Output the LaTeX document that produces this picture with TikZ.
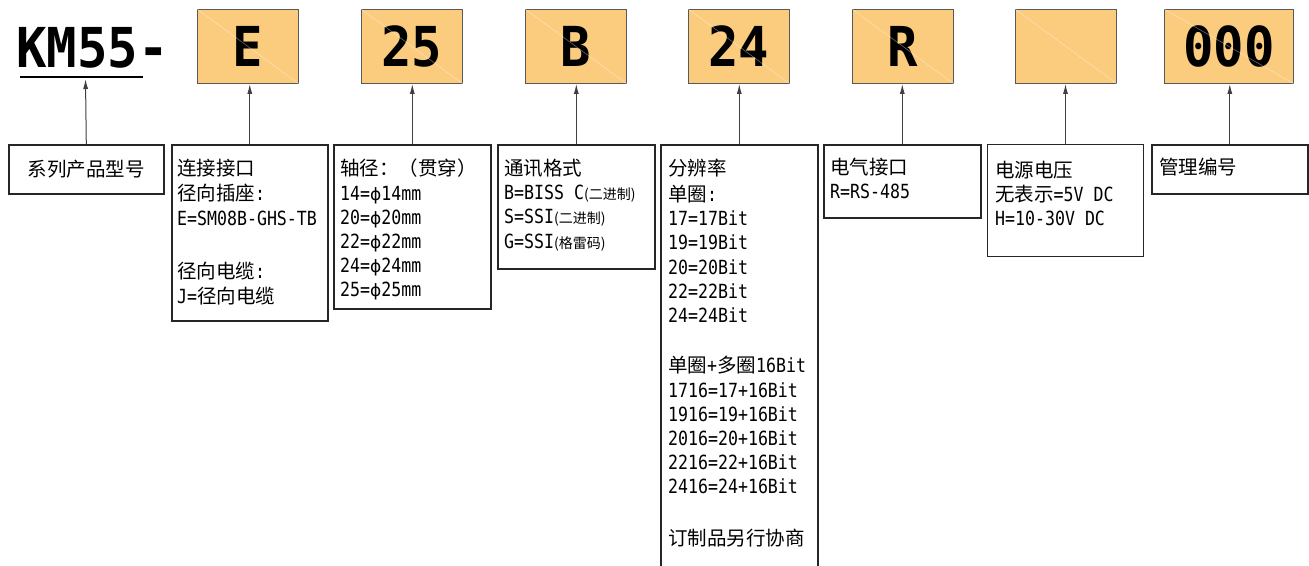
\documentclass[tikz,border=0pt]{standalone}
\usepackage{fontspec}
\setmainfont{Noto Sans CJK SC}
\newfontfamily\cjk{Noto Sans CJK SC}
\newfontfamily\latn[FakeStretch=0.85]{DejaVu Sans Mono}
\newfontfamily\ttl[FakeStretch=0.92]{DejaVu Sans Mono}
\newfontfamily\djv{DejaVu Sans}
\newcommand\smcjk{\cjk\fontsize{14}{16}\selectfont}
\usetikzlibrary{arrows.meta,calc}
\definecolor{orfill}{HTML}{FBCB7E}
\begin{document}
\begin{tikzpicture}[x=1pt,y=-1pt,
  obox/.style={draw=black!65, line width=0.9pt, fill=orfill, minimum height=74pt,
    anchor=north west, inner sep=0pt, font=\ttl\bfseries\fontsize{55}{60}\selectfont},
  lbox/.style={draw=black!85, line width=1.6pt, anchor=north west, inner sep=0pt},
  txt/.style={anchor=base west, inner sep=0pt, font=\cjk\fontsize{19.5}{24}\selectfont},
  conn/.style={draw=black!75, line width=1pt, -{Latex[length=10pt,width=5pt]}},
  diag/.style={draw=white, opacity=0.4, line width=0.6pt}]
\path[use as bounding box] (0,0) rectangle (1309,565);
\clip (0,0) rectangle (1309,565);
\fill[white] (0,0) rectangle (1309,565);

% title
\node[anchor=base west, inner sep=0pt, font=\ttl\bfseries\fontsize{55}{60}\selectfont] (title) at (16,67) {KM55-};
\draw[line width=2.2pt] (20,77) -- (143,77);
\coordinate (ul) at (85.5,79);

% orange code boxes
\node[obox, minimum width=101pt] (o1) at (197,9) {E};
\node[obox, minimum width=101pt] (o2) at (361,9) {25};
\node[obox, minimum width=101pt] (o3) at (525,9) {B};
\node[obox, minimum width=101pt] (o4) at (688,9) {24};
\node[obox, minimum width=101pt] (o5) at (852,9) {R};
\node[obox, minimum width=101pt] (o6) at (1015,9) {};
\node[obox, minimum width=129pt] (o7) at (1164,9) {000};
\foreach \o in {o1,o2,o3,o4,o5,o6,o7} \draw[diag] (\o.north west) -- (\o.south east);

% description boxes
\node[lbox, minimum width=155pt, minimum height=49pt] (b1) at (8,144) {};
\node[lbox, minimum width=156pt, minimum height=176pt] (b2) at (171,144) {};
\node[lbox, minimum width=157pt, minimum height=164pt] (b3) at (333,144) {};
\node[lbox, minimum width=157pt, minimum height=124pt] (b4) at (497,144) {};
\node[lbox, minimum width=157pt, minimum height=440pt] (b5) at (660,144) {};
\node[lbox, minimum width=157pt, minimum height=73pt] (b6) at (823,144) {};
\node[lbox, line width=1pt, minimum width=156pt, minimum height=112pt] (b7) at (987,144) {};
\node[lbox, minimum width=156pt, minimum height=49pt] (b8) at (1151,144) {};

% connectors
\draw[conn] (b1.north) -- (ul);
\draw[conn] (b2.north) -- (b2.north |- o1.south);
\draw[conn] (b3.north) -- (b3.north |- o2.south);
\draw[conn] (b4.north) -- (b4.north |- o3.south);
\draw[conn] (b5.north) -- (b5.north |- o4.south);
\draw[conn] (b6.north) -- (b6.north |- o5.south);
\draw[conn] (b7.north) -- (b7.north |- o6.south);
\draw[conn] (b8.north) -- (b8.north |- o7.south);

% box 1
\node[inner sep=0pt, font=\cjk\fontsize{19.5}{24}\selectfont] (t11) at (b1.center) {系列产品型号};

% box 2
\node[txt] (t21) at ($(b2.north west)+(6,31.5)$) {连接接口};
\node[txt] (t22) at ($(b2.north west)+(6,56.5)$) {径向插座{\latn :}};
\node[txt] (t23) at ($(b2.north west)+(6,81.5)$) {\latn E=SM08B-GHS-TB};
\node[txt] (t24) at ($(b2.north west)+(6,134.5)$) {径向电缆{\latn :}};
\node[txt] (t25) at ($(b2.north west)+(6,159.5)$) {{\latn J=}径向电缆};

% box 3
\node[txt] (t31) at ($(b3.north west)+(7,31.5)$) {轴径：（贯穿）};
\node[txt] (t32) at ($(b3.north west)+(7,56.5)$) {{\latn 14=}{\djv\fontsize{17}{20}\selectfont ϕ}{\latn 14mm}};
\node[txt] (t33) at ($(b3.north west)+(7,80.5)$) {{\latn 20=}{\djv\fontsize{17}{20}\selectfont ϕ}{\latn 20mm}};
\node[txt] (t34) at ($(b3.north west)+(7,104.5)$) {{\latn 22=}{\djv\fontsize{17}{20}\selectfont ϕ}{\latn 22mm}};
\node[txt] (t35) at ($(b3.north west)+(7,128.5)$) {{\latn 24=}{\djv\fontsize{17}{20}\selectfont ϕ}{\latn 24mm}};
\node[txt] (t36) at ($(b3.north west)+(7,152.5)$) {{\latn 25=}{\djv\fontsize{17}{20}\selectfont ϕ}{\latn 25mm}};

% box 4
\node[txt] (t41) at ($(b4.north west)+(7,31.5)$) {通讯格式};
\node[txt] (t42) at ($(b4.north west)+(7,55.5)$) {{\latn B=BISS C}{\smcjk (二进制)}};
\node[txt] (t43) at ($(b4.north west)+(7,79.5)$) {{\latn S=SSI}{\smcjk (二进制)}};
\node[txt] (t44) at ($(b4.north west)+(7,104.5)$) {{\latn G=SSI}{\smcjk (格雷码)}};

% box 5
\node[txt] (t51) at ($(b5.north west)+(8,31.5)$) {分辨率};
\node[txt] (t52) at ($(b5.north west)+(8,57.5)$) {单圈{\latn :}};
\node[txt] (t53) at ($(b5.north west)+(8,81.5)$) {\latn 17=17Bit};
\node[txt] (t54) at ($(b5.north west)+(8,105.5)$) {\latn 19=19Bit};
\node[txt] (t55) at ($(b5.north west)+(8,130.5)$) {\latn 20=20Bit};
\node[txt] (t56) at ($(b5.north west)+(8,154.5)$) {\latn 22=22Bit};
\node[txt] (t57) at ($(b5.north west)+(8,178.5)$) {\latn 24=24Bit};
\node[txt] (t58) at ($(b5.north west)+(8,228.5)$) {单圈{\latn +}多圈{\latn 16Bit}};
\node[txt] (t59) at ($(b5.north west)+(8,253.5)$) {\latn 1716=17+16Bit};
\node[txt] (t510) at ($(b5.north west)+(8,277.5)$) {\latn 1916=19+16Bit};
\node[txt] (t511) at ($(b5.north west)+(8,301.5)$) {\latn 2016=20+16Bit};
\node[txt] (t512) at ($(b5.north west)+(8,325.5)$) {\latn 2216=22+16Bit};
\node[txt] (t513) at ($(b5.north west)+(8,349.5)$) {\latn 2416=24+16Bit};
\node[txt] (t514) at ($(b5.north west)+(8,401.5)$) {订制品另行协商};

% box 6
\node[txt] (t61) at ($(b6.north west)+(7,30.5)$) {电气接口};
\node[txt] (t62) at ($(b6.north west)+(7,54.5)$) {\latn R=RS-485};

% box 7
\node[txt] (t71) at ($(b7.north west)+(8,33.5)$) {电源电压};
\node[txt] (t72) at ($(b7.north west)+(8,57.5)$) {无表示{\latn =5V DC}};
\node[txt] (t73) at ($(b7.north west)+(8,81.5)$) {\latn H=10-30V DC};

% box 8
\node[txt] (t81) at ($(b8.north west)+(8,30.5)$) {管理编号};
\end{tikzpicture}
\end{document}
